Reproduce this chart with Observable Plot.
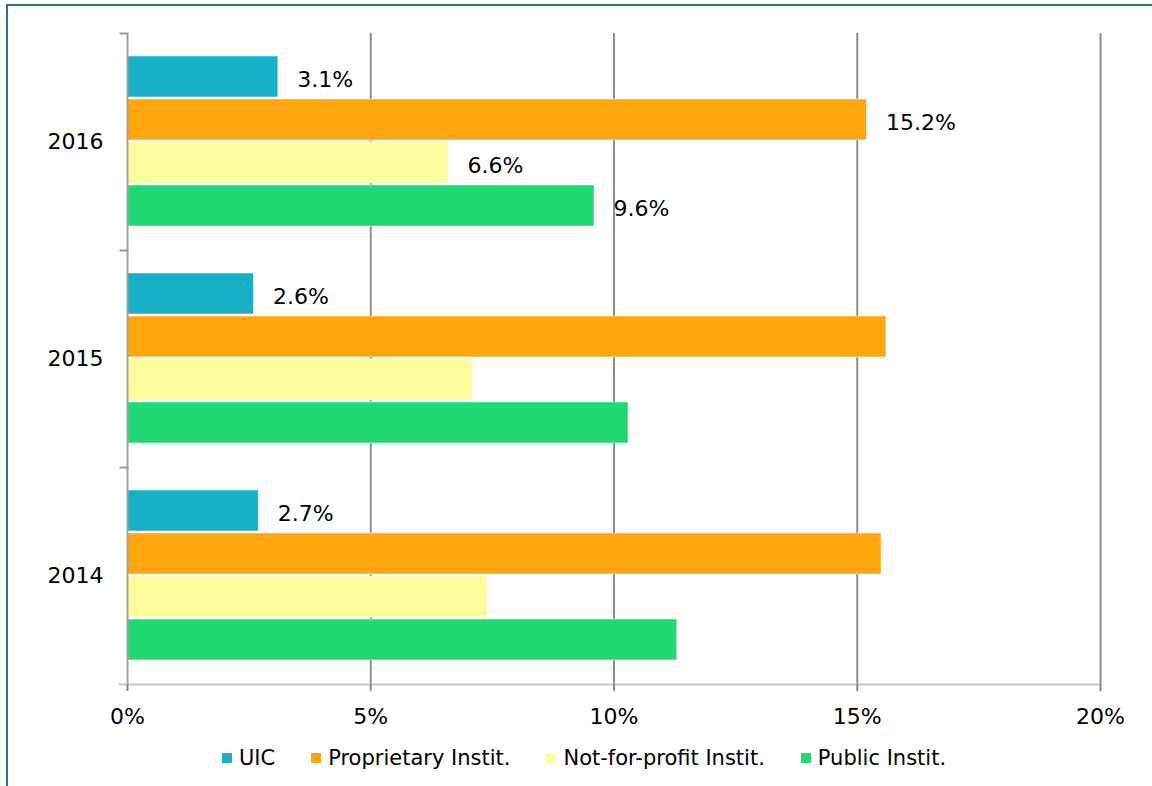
<!DOCTYPE html>
<html><head><meta charset="utf-8">
<script src="https://cdn.jsdelivr.net/npm/d3@7"></script>
<script src="https://cdn.jsdelivr.net/npm/@observablehq/plot@0.6"></script>
<style>
body{margin:0;background:#fff;font-family:"DejaVu Sans",sans-serif;}
#wrap{position:relative;width:1152px;height:786px;overflow:hidden;}
#border{position:absolute;left:6px;top:4px;width:1200px;height:900px;border-left:2px solid #2E6EA6;border-top:2px solid #2E6EA6;pointer-events:none;}
#legend{display:flex;justify-content:center;align-items:center;padding-left:16px;margin-top:6px;font-size:21px;color:#000;}
.item{display:flex;align-items:center;margin-right:36px;}
.item:last-child{margin-right:0;}
.sw{width:10px;height:10px;margin-right:7px;}
</style></head>
<body><div id="wrap"><div id="chart"></div><div id="legend"></div><div id="border"></div></div>
<script>
const years = ["2016", "2015", "2014"];
const seriesNames = ["UIC", "Proprietary Instit.", "Not-for-profit Instit.", "Public Instit."];
const seriesColors = ["#17B0C7", "#FFA60F", "#FFFC9E", "#22D872"];
const uicValues = [3.1, 2.6, 2.7];
const proprietaryValues = [15.2, 15.6, 15.5];
const notForProfitValues = [6.6, 7.1, 7.4];
const publicValues = [9.6, 10.3, 11.3];
const uicLabeled = [true, true, true];
const proprietaryLabeled = [true, false, false];
const notForProfitLabeled = [true, false, false];
const publicLabeled = [true, false, false];
const xTicks = [0, 5, 10, 15, 20];

const seriesValues = [uicValues, proprietaryValues, notForProfitValues, publicValues];
const seriesLabeled = [uicLabeled, proprietaryLabeled, notForProfitLabeled, publicLabeled];
const rows = years.flatMap((yr, i) => seriesNames.map((s, k) => ({
  year: yr, series: s, value: seriesValues[k][i], labeled: seriesLabeled[k][i]
})));

const font = "DejaVu Sans";
const plot = Plot.plot({
  width: 1152,
  height: 740,
  marginLeft: 127,
  marginRight: 52,
  marginTop: 32,
  marginBottom: 55,
  style: {fontFamily: font, background: "white", color: "black"},
  x: {domain: [0, 20], axis: null, label: null},
  y: {domain: seriesNames, paddingInner: 0.045, paddingOuter: 0.5, axis: null, label: null},
  fy: {domain: years, padding: 0, axis: null, label: null},
  color: {domain: seriesNames, range: seriesColors},
  marks: [
    Plot.gridX({ticks: [5, 10, 15, 20], stroke: "#8c8c8c", strokeOpacity: 1, strokeWidth: 2}),
    Plot.barX(rows, {x: "value", y: "series", fy: "year", fill: "series", stroke: "white", strokeOpacity: 0.5, strokeWidth: 1}),
    Plot.ruleX([0], {stroke: "#a0a0a0", strokeWidth: 2}),
    Plot.frame({anchor: "top", insetLeft: -7, insetRight: 973, stroke: "#999", strokeWidth: 2}),
    Plot.frame({anchor: "bottom", facetAnchor: "bottom", insetLeft: -8, stroke: "#c8c8c8", strokeWidth: 2}),
    Plot.axisX({ticks: xTicks, tickFormat: d => d + "%", tickSize: 7, tickPadding: 17, fontSize: 22, stroke: "#888", strokeWidth: 2, fill: "black", label: null}),
    Plot.axisFy({anchor: "left", tickSize: 0, tickPadding: 24, fontSize: 22, fill: "black", label: null}),
    Plot.text(rows.filter(d => d.labeled), {x: "value", y: "series", fy: "year", text: d => d.value.toFixed(1) + "%", textAnchor: "start", dx: 19, dy: 3, fontSize: 22, fill: "black"})
  ]
});
document.getElementById("chart").appendChild(plot);

const legend = document.getElementById("legend");
seriesNames.forEach((s, k) => {
  const it = document.createElement("div");
  it.className = "item";
  const sw = document.createElement("div");
  sw.className = "sw";
  sw.style.background = seriesColors[k];
  const t = document.createElement("span");
  t.textContent = s;
  it.appendChild(sw); it.appendChild(t);
  legend.appendChild(it);
});
</script></body></html>
